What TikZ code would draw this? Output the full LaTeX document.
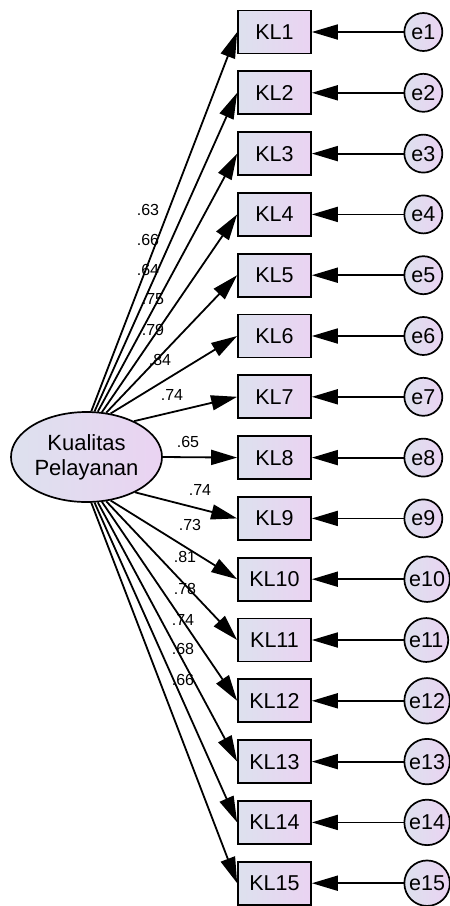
\documentclass[tikz,border=0pt]{standalone}
\usepackage{fontspec}
\setmainfont{Liberation Sans}
\usetikzlibrary{shapes.geometric,arrows.meta}
\definecolor{gleft}{HTML}{DDE1EE}
\definecolor{gright}{HTML}{EAD3F2}
\begin{document}
\begin{tikzpicture}[x=1pt,y=-1pt,
 grad/.style={draw=black,line width=1.7pt,left color=gleft,right color=gright},
 obs/.style={grad,rectangle,minimum width=73pt,minimum height=43pt,inner sep=0pt,font=\fontsize{21.5}{24}\selectfont},
 err/.style={grad,circle,minimum size=38pt,inner sep=2.5pt,font=\fontsize{21.5}{24}\selectfont},
 lat/.style={grad,ellipse,minimum width=151pt,minimum height=90pt,inner sep=0pt,align=center,font=\fontsize{22}{25}\selectfont},
 pth/.style={line width=1.8pt,-{Triangle[length=26pt,width=15pt]}},
 lbl/.style={font=\fontsize{16}{18}\selectfont,inner sep=0pt}
]
\useasboundingbox (0,0) rectangle (450,906);
\node[lat] (lat) at (86.5,457) {Kualitas\\Pelayanan};
\foreach \i/\a in {1/84,2/80,3/76,4/71,5/66,6/61,7/37,8/0,9/-36,10/-61,11/-66,12/-71,13/-76,14/-80,15/-84}{
  \pgfmathsetmacro\yy{32+60.8*(\i-1)}
  \node[obs] (KL\i) at (274.5,\yy) {KL\i};
  \node[err,anchor=west] (e\i) at (403.5,\yy) {e\i};
  \draw[pth] (e\i) -- (KL\i);
  \draw[pth] (lat.\a) -- (KL\i.west);
}
\foreach \n/\x/\y/\t in {l1/148/210/.63,l2/148/240/.66,l3/148/270/.64,l4/153/299/.75,l5/153/330/.79,l6/160/360/.84,l7/172/395/.74,l8/188/442/.65,l9/200/490/.74,l10/190/525/.73,l11/185/557/.81,l12/185/589/.78,l13/183/620/.74,l14/183/649/.68,l15/183/680/.66}{
  \node[lbl] (\n) at (\x,\y) {\t};
}
\end{tikzpicture}
\end{document}
